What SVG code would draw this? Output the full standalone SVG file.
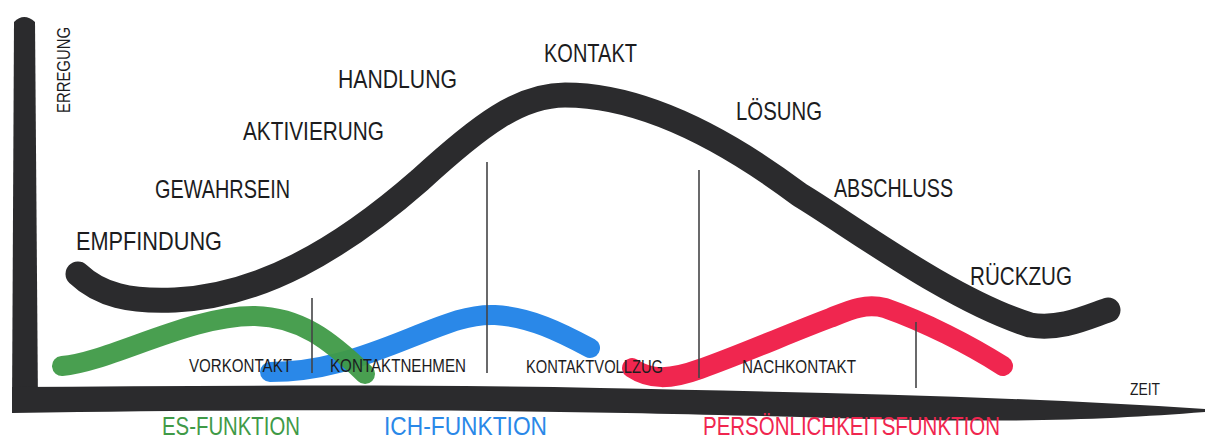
<svg xmlns="http://www.w3.org/2000/svg" width="1209" height="441" viewBox="0 0 1209 441">
  <style>
    .ink { fill: none; stroke-linecap: round; stroke-linejoin: round; }
    .black { stroke: #2b2b2d; stroke-width: 25; }
    .green { stroke: #3f9a47; stroke-width: 20; }
    .blue { stroke: #2a88e8; stroke-width: 20; }
    .red { stroke: #f0264f; stroke-width: 20; }
    .divider { stroke: #444446; stroke-width: 1.6; fill: none; }
    .lbl { font-family: "Liberation Sans", "DejaVu Sans", sans-serif; fill: #1c1c1e; }
    .big { font-size: 26px; }
    .small { font-size: 18px; }
    .func { font-size: 25px; }
  </style>
  <rect width="1209" height="441" fill="#ffffff"/>

  <g id="axes">
    <path id="y-axis" d="M 14 22 Q 24 12 35 22 L 38 405 Q 25 414 12 410 Z" fill="#2b2b2d"/>
    <path id="x-axis" d="M 12 387 C 200 386, 400 384, 600 388 C 800 392, 1010 396, 1205 409 L 1205 412 C 1100 420, 1010 424, 800 417 C 600 412, 400 407, 12 413 Z" fill="#2b2b2d"/>
  </g>

  <g id="curves">
    <path id="arousal-curve" class="ink black" d="M 78 274 C 100 295, 130 302, 175 300 C 260 296, 340 250, 420 180 C 480 125, 520 95, 565 95 C 640 95, 720 135, 800 195 C 850 225, 950 300, 1030 325 C 1060 330, 1085 318, 1108 310"/>
    <path id="ich-curve" class="ink blue" d="M 270 372 C 320 372, 360 358, 410 338 C 450 322, 470 314, 495 315 C 530 317, 560 332, 590 348"/>
    <path id="es-curve" class="ink green" opacity="0.95" d="M 62 366 C 110 362, 190 315, 255 316 C 300 317, 330 340, 365 374"/>
    <path id="pers-curve" class="ink red" d="M 632 368 C 650 380, 670 380, 700 369 C 740 355, 790 333, 830 318 C 850 310, 865 303, 885 308 C 925 322, 970 345, 1003 366"/>
  </g>

  <g id="dividers">
    <line class="divider" x1="312" y1="298" x2="312" y2="373"/>
    <line class="divider" x1="487" y1="162" x2="487" y2="373"/>
    <line class="divider" x1="699" y1="170" x2="699" y2="378"/>
    <line class="divider" x1="916" y1="322" x2="916" y2="388"/>
  </g>

  <g id="phase-labels">
    <text class="lbl big" x="76" y="250" textLength="146" lengthAdjust="spacingAndGlyphs">EMPFINDUNG</text>
    <text class="lbl big" x="155" y="198" textLength="135" lengthAdjust="spacingAndGlyphs">GEWAHRSEIN</text>
    <text class="lbl big" x="243" y="140" textLength="141" lengthAdjust="spacingAndGlyphs">AKTIVIERUNG</text>
    <text class="lbl big" x="338" y="88" textLength="119" lengthAdjust="spacingAndGlyphs">HANDLUNG</text>
    <text class="lbl big" x="544" y="62" textLength="93" lengthAdjust="spacingAndGlyphs">KONTAKT</text>
    <text class="lbl big" x="736" y="120" textLength="86" lengthAdjust="spacingAndGlyphs">LÖSUNG</text>
    <text class="lbl big" x="834" y="197" textLength="119" lengthAdjust="spacingAndGlyphs">ABSCHLUSS</text>
    <text class="lbl big" x="970" y="285" textLength="102" lengthAdjust="spacingAndGlyphs">RÜCKZUG</text>
  </g>

  <g id="stage-labels">
    <text class="lbl small" x="189" y="372" textLength="103" lengthAdjust="spacingAndGlyphs">VORKONTAKT</text>
    <text class="lbl small" x="330" y="372" textLength="136" lengthAdjust="spacingAndGlyphs">KONTAKTNEHMEN</text>
    <text class="lbl small" x="526" y="373" textLength="137" lengthAdjust="spacingAndGlyphs">KONTAKTVOLLZUG</text>
    <text class="lbl small" x="742" y="373" textLength="114" lengthAdjust="spacingAndGlyphs">NACHKONTAKT</text>
  </g>

  <g id="axis-labels">
    <text class="lbl small" transform="translate(70,113) rotate(-90)" x="0" y="0" textLength="86" lengthAdjust="spacingAndGlyphs">ERREGUNG</text>
    <text class="lbl" font-size="17" x="1130" y="395" textLength="30" lengthAdjust="spacingAndGlyphs">ZEIT</text>
  </g>

  <g id="function-labels">
    <text class="lbl func" x="162" y="435" textLength="138" lengthAdjust="spacingAndGlyphs" style="fill:#3f9a47">ES-FUNKTION</text>
    <text class="lbl func" x="384" y="435" textLength="163" lengthAdjust="spacingAndGlyphs" style="fill:#2a88e8">ICH-FUNKTION</text>
    <text class="lbl func" x="703" y="435" textLength="297" lengthAdjust="spacingAndGlyphs" style="fill:#f0264f">PERSÖNLICHKEITSFUNKTION</text>
  </g>
</svg>
